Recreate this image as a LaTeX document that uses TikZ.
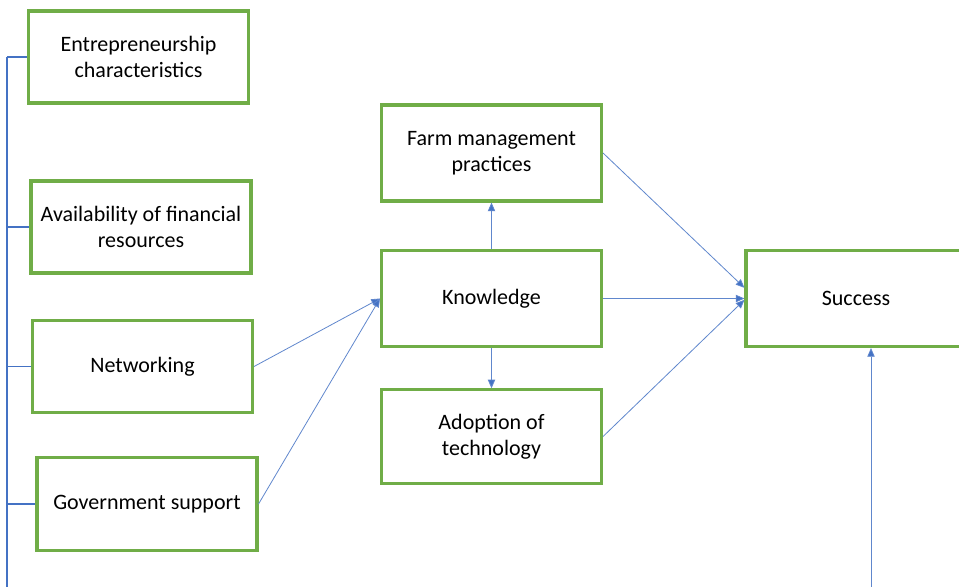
\documentclass[tikz,border=0pt]{standalone}
\usepackage{fontspec}
\setmainfont{Carlito}
\usetikzlibrary{arrows.meta}
\definecolor{BoxGreen}{HTML}{70AD47}
\definecolor{LinkBlue}{HTML}{4472C4}

\tikzset{
  factor/.style={draw=BoxGreen, line width=2.3pt, fill=white, align=center,
    minimum width=165pt, minimum height=69pt, inner sep=2pt,
    font=\fontsize{16.5}{19.5}\selectfont},
  link/.style={draw=LinkBlue!85, line width=0.6pt},
  spine/.style={draw=LinkBlue, line width=0.8pt},
  flow/.style={link, -{Triangle[length=6.5pt, width=5.5pt, fill=LinkBlue]}}
}

\begin{document}
\begin{tikzpicture}[x=0.75pt, y=-0.75pt]

  % Seitenrahmen (959 x 586 px)
  \clip (0,0) rectangle (959,586);
  \fill[white] (0,0) rectangle (959,586);

  % Einflussfaktoren links
  \node[factor] (entre) at (138.5,57) {Entrepreneurship\\characteristics};
  \node[factor] (fin)   at (141,227)  {Availability of financial\\resources};
  \node[factor] (net)   at (142.5,366.5) {Networking};
  \node[factor, minimum height=70pt] (gov) at (147,504) {Government support};

  % Mittelspalte
  \node[factor, minimum height=72pt] (farm)  at (491.5,153)   {Farm management\\practices};
  \node[factor, minimum height=72pt] (know)  at (491.5,298.5) {Knowledge};
  \node[factor, minimum height=70pt] (adopt) at (491.5,436.5) {Adoption of\\technology};

  % Zielgroesse (rechts angeschnitten)
  \node[factor, minimum height=72pt] (succ) at (856,298.5) {Success};

  % Klammerlinie links
  \coordinate (spinetop) at (7,57);
  \coordinate (spinebot) at (7,590);
  \draw[spine] (spinetop) -- (spinebot);
  \foreach \f in {entre,fin,net,gov}
    \draw[spine] (spinetop |- \f.west) -- (\f.west);

  % Pfeile zum Wissen
  \draw[flow] (net.east) -- (know.west);
  \draw[flow] (gov.east) -- (know.west);
  \draw[flow] (know.north) -- (farm.south);
  \draw[flow] (know.south) -- (adopt.north);

  % Pfeile zum Erfolg
  \draw[flow] (farm.east)  -- ([yshift=8pt]succ.west);
  \draw[flow] (know.east)  -- (succ.west);
  \draw[flow] (adopt.east) -- ([yshift=-1pt]succ.west);
  \coordinate (feed) at (871,590);
  \draw[flow] (feed) -- (feed |- succ.south);

\end{tikzpicture}
\end{document}
